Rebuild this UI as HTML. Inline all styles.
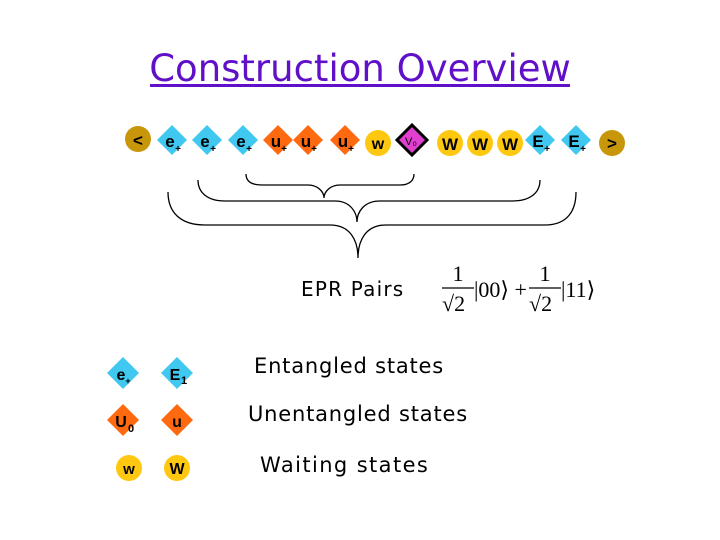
<!DOCTYPE html>
<html><head><style>
body{margin:0;background:#fff}
svg{display:block}
.c{font-family:"DejaVu Sans","Liberation Sans",sans-serif}
.b{font-family:"Liberation Sans",sans-serif;font-weight:bold}
.m{font-family:"Liberation Serif",serif}
</style></head><body>
<svg width="720" height="540" viewBox="0 0 720 540" xmlns="http://www.w3.org/2000/svg">
<text x="360" y="81" text-anchor="middle" class="c" font-size="37" fill="#6010c8">Construction Overview</text>
<rect x="150" y="84" width="420" height="3" fill="#6010c8"/>

<g class="b" font-size="17" text-anchor="middle">
<circle cx="138" cy="139" r="13" fill="#c8960a"/><text x="138" y="146" fill="#000">&lt;</text>
<g fill="#40c8f0">
<polygon points="172,125 187,140 172,155 157,140"/>
<polygon points="207,125 222,140 207,155 192,140"/>
<polygon points="243,125 258,140 243,155 228,140"/>
<polygon points="540,125 555,140 540,155 525,140"/>
<polygon points="576,125 591,140 576,155 561,140"/>
</g>
<g fill="#ff6a10">
<polygon points="278,125 293,140 278,155 263,140"/>
<polygon points="308,125 323,140 308,155 293,140"/>
<polygon points="345,125 360,140 345,155 330,140"/>
</g>
<polygon points="412,125 427,140 412,155 397,140" fill="#e040d0" stroke="#000" stroke-width="3"/>
<text x="411" y="145" font-size="11" font-weight="normal" fill="#000">V₀</text>
<g fill="#ffc810">
<circle cx="378" cy="143" r="13"/><circle cx="450" cy="143" r="13"/><circle cx="480" cy="143" r="13"/><circle cx="510" cy="143" r="13"/>
</g>
<circle cx="612" cy="143" r="13" fill="#c8960a"/><text x="612" y="149" fill="#000">&gt;</text>
<g fill="#000">
<text x="170" y="147">e</text><text x="205" y="147">e</text><text x="241" y="147">e</text>
<text x="276" y="147">u</text><text x="306" y="147">u</text><text x="343" y="147">u</text>
<text x="378" y="149" font-size="16">w</text>
<text x="450" y="150">W</text><text x="480" y="150">W</text><text x="510" y="150">W</text>
<text x="538" y="147">E</text><text x="574" y="147">E</text>
</g>
<g fill="#000" font-size="10">
<text x="178" y="152">+</text><text x="213" y="152">+</text><text x="249" y="152">+</text>
<text x="284" y="152">+</text><text x="314" y="152">+</text><text x="351" y="152">+</text>
<text x="547" y="152">+</text><text x="583" y="152">+</text>
</g>
</g>

<g fill="none" stroke="#000" stroke-width="1.3">
<path d="M246,174 C246,182 252,185 262,185 L308,185 C318,185 324,192 324,198 C324,192 330,185 340,185 L400,185 C410,185 414,180 414,174"/>
<path d="M198,180 C198,193 208,201 225,201 L335,201 C350,201 357,212 357,222 C357,212 364,201 380,201 L512,201 C530,201 540,193 540,180"/>
<path d="M168,192 C168,212 180,225 205,225 L330,225 C350,225 358,240 358,258 C358,240 366,225 386,225 L545,225 C568,225 576,210 576,192"/>
</g>

<text x="301" y="296" class="c" font-size="20" letter-spacing="1.2">EPR Pairs</text>
<g class="m" font-size="22" fill="#000">
<text x="458" y="281" text-anchor="middle">1</text>
<line x1="442" y1="288" x2="474" y2="288" stroke="#000" stroke-width="1.2"/>
<text x="442" y="311">√2</text>
<text x="474" y="297">|00⟩ +</text>
<text x="545" y="281" text-anchor="middle">1</text>
<line x1="529" y1="288" x2="561" y2="288" stroke="#000" stroke-width="1.2"/>
<text x="529" y="311">√2</text>
<text x="561" y="297">|11⟩</text>
</g>

<g class="b" font-size="16" text-anchor="middle">
<polygon points="123,357 139,373 123,389 107,373" fill="#40c8f0"/>
<text x="121" y="380">e</text><text x="128" y="384" font-size="9">+</text>
<polygon points="177,357 193,373 177,389 161,373" fill="#40c8f0"/>
<text x="175" y="380">E</text><text x="184" y="384" font-size="11">1</text>
<polygon points="123,404 139,420 123,436 107,420" fill="#ff6a10"/>
<text x="121" y="427">U</text><text x="131" y="432" font-size="11">0</text>
<polygon points="177,404 193,420 177,436 161,420" fill="#ff6a10"/>
<text x="177" y="427">u</text>
<circle cx="129" cy="468" r="13" fill="#ffc810"/><text x="129" y="474" font-size="15">w</text>
<circle cx="177" cy="468" r="13" fill="#ffc810"/><text x="177" y="474">W</text>
</g>

<g class="c" font-size="21" fill="#000" letter-spacing="0.8">
<text x="254" y="373">Entangled states</text>
<text x="248" y="421">Unentangled states</text>
<text x="260" y="472" letter-spacing="1.4">Waiting states</text>
</g>
</svg>
</body></html>
